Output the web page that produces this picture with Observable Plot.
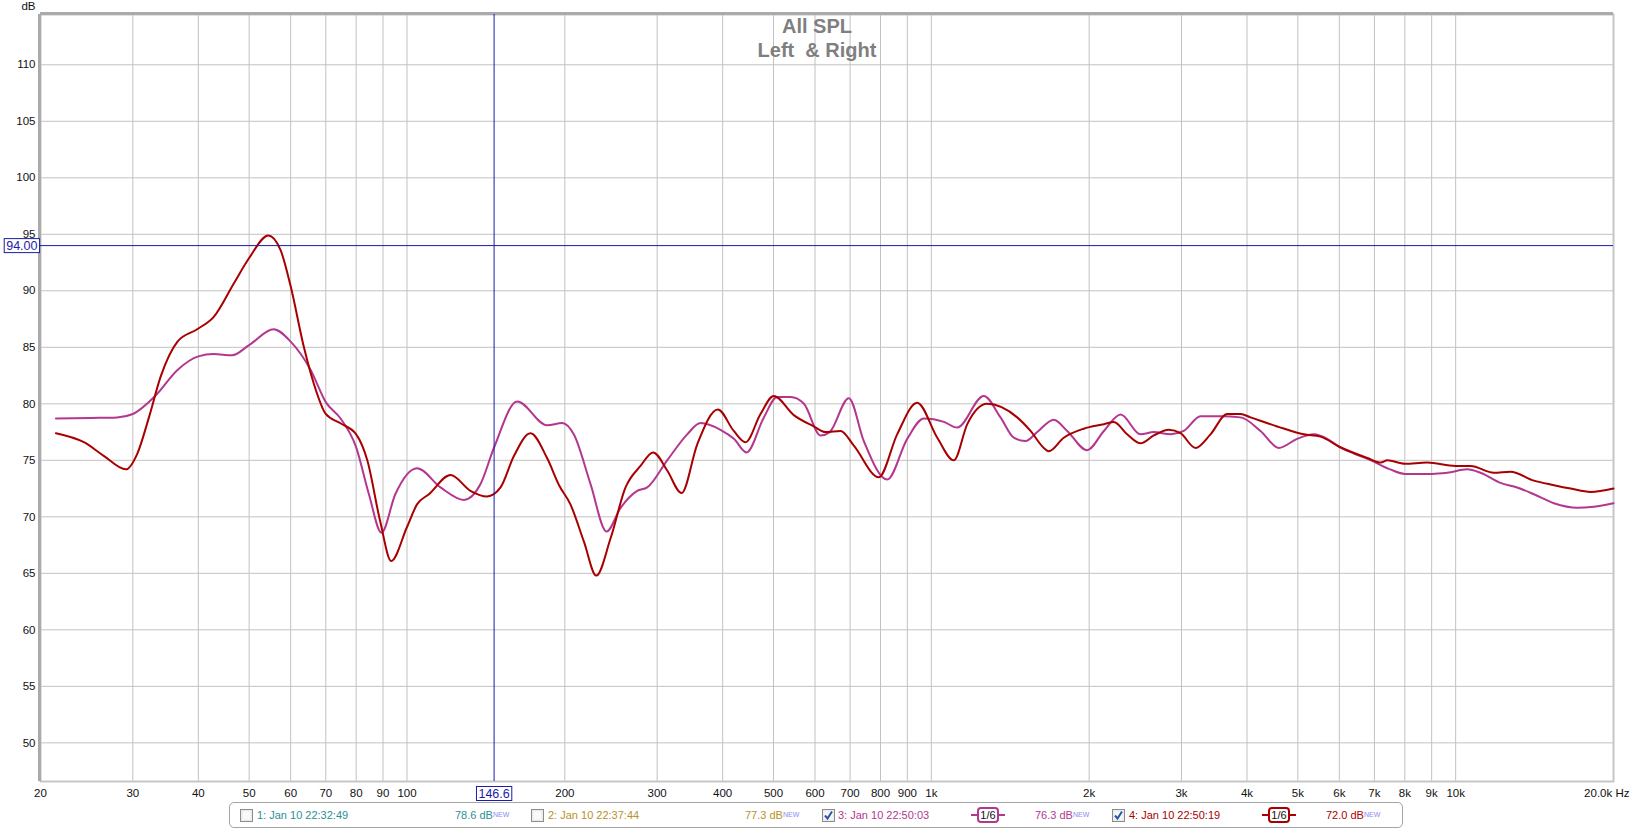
<!DOCTYPE html>
<html><head><meta charset="utf-8">
<script src="https://cdn.jsdelivr.net/npm/d3@7"></script>
<script src="https://cdn.jsdelivr.net/npm/@observablehq/plot@0.6"></script>
<style>
body{margin:0;background:#fff;font-family:"Liberation Sans",Arial,sans-serif;}
#wrap{position:relative;width:1632px;height:830px;overflow:hidden;background:#fff;}
#chart svg{display:block;}
#legend{position:absolute;left:229px;top:802px;width:1174px;height:26px;border:1px solid #a4a4a4;border-radius:5px;box-sizing:border-box;font-size:11px;}
.item{position:absolute;top:0;height:100%;display:flex;align-items:center;white-space:nowrap;}
.item sup{font-size:7px;color:#8a8aee;position:relative;top:-1px;}
</style>
</head><body>
<div id="wrap"><div id="chart"></div><div id="legend"></div></div>
<script>
// ---- data ----
const s3Freq = [21.4,25,28,30,33.1,36.5,40,42.8,46.4,50,55.7,60,65.5,70,74.7,80,84.6,89.4,95,104.5,115.9,128.4,138.1,146.6,162.3,185,197.7,208,223.9,240.2,255.5,274.8,287.1,313.5,342.3,362.9,396.2,420.2,444.1,479.3,508.2,539,571.6,614.7,640,696.1,743.5,823.9,899.6,967.9,1056.9,1120,1259,1355,1437,1512,1592,1712,1816,1982,2134,2296,2506,2657,2858,3030,3262,3562,3887,4244,4600,4985,5365,5690,6000,6400,6893,7500,8000,9000,9636,10516,11150,12176,13100,14101,15397,17061,18356,20000];
const s3Db = [78.7,78.75,78.8,79.1,80.7,83.0,84.2,84.4,84.3,85.2,86.6,85.5,83.0,80.15,78.7,76.15,72.0,68.6,72.0,74.3,72.6,71.5,72.9,76.15,80.2,78.1,78.3,77.3,72.9,68.7,70.8,72.3,72.6,75.0,77.3,78.3,77.7,76.9,75.7,78.8,80.6,80.6,80.0,77.2,77.5,80.5,76.7,73.3,76.9,78.7,78.4,77.9,80.7,78.8,77.0,76.7,77.5,78.6,77.6,75.9,77.6,79.05,77.3,77.5,77.3,77.6,78.9,78.9,78.8,77.6,76.1,76.9,77.3,76.9,76.2,75.6,75.0,74.2,73.8,73.8,73.9,74.2,73.9,73.0,72.6,72.0,71.2,70.8,70.9,71.2];

const s4Freq = [21.4,24.2,26.4,29.1,30.6,32.2,33.9,36.5,39.8,42.8,46.8,50,54.4,57.4,60,63.6,66.4,70,74.5,80,84,88.9,93.3,100,104.5,110.1,121.1,132.1,142.2,150.8,160,172,185,195,205,217.5,229.6,244.5,261.1,278.8,294.8,313.5,333.9,357.6,391.6,420,442.2,472.3,500.6,546.6,596.9,628.3,671.3,711.6,794,860.7,939.8,1026.5,1104,1171,1278,1458,1546,1639,1675,1789,1953,2134,2229,2363,2506,2657,2837,2987,3190,3407,3667,3887,4062,4567,5134,5523,6000,6793,7202,7405,8000,8823,10000,10675,11826,12722,14101,15397,16568,18086,20000];
const s4Db = [77.4,76.6,75.4,74.2,75.6,78.8,82.4,85.5,86.6,87.7,90.7,92.9,94.9,93.6,90.4,85.0,81.8,79.1,78.3,77.3,75.0,69.6,66.1,69.1,71.1,72.0,73.7,72.3,71.8,72.6,75.4,77.4,75.2,72.8,71.1,67.8,64.8,68.1,72.6,74.5,75.7,74.1,72.1,76.4,79.5,77.6,76.6,79.1,80.7,79.0,78.0,77.5,77.6,76.3,73.5,77.3,80.1,77.0,75.0,78.2,80.0,78.8,77.6,76.1,75.8,77.0,77.8,78.2,78.4,77.3,76.5,77.2,77.7,77.4,76.1,77.3,79.1,79.1,78.8,78.0,77.3,77.1,76.2,75.2,74.8,75.0,74.7,74.8,74.5,74.5,73.9,74.0,73.2,72.8,72.5,72.2,72.5];

const xGrid = [20,30,40,50,60,70,80,90,100,200,300,400,500,600,700,800,900,1000,2000,3000,4000,5000,6000,7000,8000,9000,10000];
const xTickValues = [20,30,40,50,60,70,80,90,100,200,300,400,500,600,700,800,900,1000,2000,3000,4000,5000,6000,7000,8000,9000,10000];
const xTickLabels = ["20","30","40","50","60","70","80","90","100","200","300","400","500","600","700","800","900","1k","2k","3k","4k","5k","6k","7k","8k","9k","10k"];
const xEndLabel = "20.0k Hz";
const yTicks = [50,55,60,65,70,75,80,85,90,95,100,105,110];
const cursorFreq = 146.6;
const cursorDb = 94.0;
const titleLines = ["All SPL", "Left\u00a0 & Right"];

const legendNames = ["1: Jan 10 22:32:49","2: Jan 10 22:37:44","3: Jan 10 22:50:03","4: Jan 10 22:50:19"];
const legendValues = ["78.6 dB","77.3 dB","76.3 dB","72.0 dB"];
const legendChecked = [false,false,true,true];
const legendSmoothing = [null,null,"1/6","1/6"];
const legendColors = ["#2e8f95","#b8922a","#b4378f","#a80000"];

const s3 = s3Freq.map((f,i)=>({f, db:s3Db[i]}));
const s4 = s4Freq.map((f,i)=>({f, db:s4Db[i]}));

const W = 1632, H = 800;
const yMin = 46.58, yMax = 114.45;
const cursorColor = "#1c1ca6";

const chart = Plot.plot({
  width: W, height: H,
  marginLeft: 40, marginRight: 19, marginTop: 14, marginBottom: 19,
  style: {fontFamily: "'Liberation Sans', Arial, sans-serif", fontSize: "11px", background: "white", overflow: "visible"},
  x: {type: "log", domain: [20, 20000], axis: null},
  y: {domain: [yMin, yMax], axis: null},
  marks: [
    Plot.ruleX(xGrid, {stroke: "#c2c2c2", strokeWidth: 1}),
    Plot.ruleY(yTicks, {stroke: "#c2c2c2", strokeWidth: 1}),
    Plot.frame({stroke: "#c6c6c6", strokeWidth: 2}),
    Plot.ruleX([20], {stroke: "#aaaaaa", strokeWidth: 3, dx: -1}),
    Plot.ruleY([yMax], {stroke: "#aaaaaa", strokeWidth: 3, dy: -1}),
    // title
    Plot.text([titleLines[0]], {frameAnchor: "top", dx: -10, dy: 12, text: d => d, fontSize: 20, fontWeight: "bold", fill: "#7f7f7f", lineAnchor: "middle"}),
    Plot.text([titleLines[1]], {frameAnchor: "top", dx: -10, dy: 36, text: d => d, fontSize: 20, fontWeight: "bold", fill: "#7f7f7f", lineAnchor: "middle"}),
    // axis labels
    Plot.text(yTicks, {y: d => d, frameAnchor: "left", dx: -5, textAnchor: "end", text: d => String(d), fill: "#111", fontSize: 11.5}),
    Plot.text(["dB"], {frameAnchor: "top-left", dx: -5, dy: -8, textAnchor: "end", text: d => d, fill: "#111", fontSize: 11.5, lineAnchor: "middle"}),
    Plot.text(xTickValues, {x: d => d, frameAnchor: "bottom", dy: 12, text: (d, i) => xTickLabels[i], fill: "#111", fontSize: 11.5, lineAnchor: "middle"}),
    Plot.text([20000], {x: d => d, frameAnchor: "bottom", dy: 12, dx: 16, textAnchor: "end", text: () => xEndLabel, fill: "#111", fontSize: 11.5, lineAnchor: "middle"}),
    // data curves
    Plot.line(s3, {x: "f", y: "db", stroke: "#b4378f", strokeWidth: 2, curve: "monotone-x"}),
    Plot.line(s4, {x: "f", y: "db", stroke: "#a80000", strokeWidth: 2, curve: "monotone-x"}),
    // cursor
    Plot.ruleX([cursorFreq], {stroke: cursorColor, strokeWidth: 1}),
    Plot.ruleY([cursorDb], {stroke: cursorColor, strokeWidth: 1}),
    Plot.text([cursorFreq], {x: d => d, frameAnchor: "bottom", dy: 12, text: d => d.toFixed(1), fill: cursorColor, fontSize: 12.5, lineAnchor: "middle", className: "cursorlab"}),
    Plot.text([cursorDb], {y: d => d, frameAnchor: "left", dx: -3, textAnchor: "end", text: d => d.toFixed(2), fill: cursorColor, fontSize: 12.5, lineAnchor: "middle", className: "cursorlab"})
  ]
});
document.getElementById("chart").appendChild(chart);

// boxes behind cursor labels (same transform as the label)
d3.select(chart).selectAll("g.cursorlab text").each(function() {
  const b = this.getBBox();
  const t = this.getAttribute("transform");
  const r = d3.select(this.parentNode).insert("rect", () => this)
    .attr("x", b.x - 2).attr("y", b.y)
    .attr("width", b.width + 4).attr("height", b.height)
    .attr("fill", "white").attr("stroke", cursorColor).attr("stroke-width", 1);
  if (t) r.attr("transform", t);
});

// legend
const legendPos = [
  {cb: 10, name: 27, sym: null, val: 225},
  {cb: 301, name: 318, sym: null, val: 515},
  {cb: 592, name: 608, sym: 741, val: 805},
  {cb: 882, name: 899, sym: 1032, val: 1096}
];
const lg = d3.select("#legend");
legendNames.forEach((name, i) => {
  const p = legendPos[i];
  const col = legendColors[i];
  const cb = lg.append("div").attr("class", "item").style("left", p.cb + "px");
  const cbs = cb.append("svg").attr("width", 13).attr("height", 13);
  cbs.append("rect").attr("x", 0.5).attr("y", 0.5).attr("width", 12).attr("height", 12).attr("fill", "#ececec").attr("stroke", "#8c8c8c");
  cbs.append("rect").attr("x", 2.5).attr("y", 2.5).attr("width", 8).attr("height", 8).attr("fill", "#fafafa").attr("stroke", "none");
  if (legendChecked[i]) {
    cbs.append("path").attr("d", "M3,6.5 L5.5,9.5 L10,2.5").attr("fill", "none").attr("stroke", "#2b55a8").attr("stroke-width", 2);
  }
  lg.append("div").attr("class", "item").style("left", p.name + "px").style("color", col).text(name);
  if (p.sym !== null) {
    const s = lg.append("div").attr("class", "item").style("left", p.sym + "px")
      .append("svg").attr("width", 34).attr("height", 18);
    s.append("line").attr("x1", 0).attr("x2", 34).attr("y1", 9).attr("y2", 9).attr("stroke", col).attr("stroke-width", 2);
    s.append("rect").attr("x", 7).attr("y", 2).attr("width", 20).attr("height", 14).attr("rx", 3)
      .attr("fill", "white").attr("stroke", col).attr("stroke-width", 2);
    s.append("text").attr("x", 17).attr("y", 13).attr("text-anchor", "middle")
      .attr("font-size", 11).attr("fill", "#111").text(legendSmoothing[i]);
  }
  const v = lg.append("div").attr("class", "item").style("left", p.val + "px").style("color", col);
  v.append("span").text(legendValues[i]);
  v.append("sup").text("NEW");
});
</script>
</body></html>
